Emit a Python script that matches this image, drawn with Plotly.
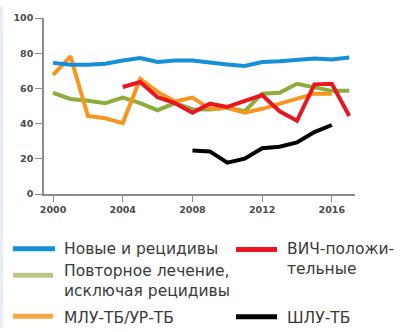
import plotly.graph_objects as go

years = list(range(2000, 2018))

new_relapse = [74.5, 73.5, 73.5, 74.0, 75.8, 77.3, 75.0, 75.8, 75.8, 74.5,
               73.6, 72.7, 75.0, 75.4, 76.0, 77.0, 76.4, 77.5]
retreatment = [57.5, 54.0, 53.0, 51.6, 54.8, 51.6, 47.6, 51.6, 48.2, 48.0,
               49.0, 47.0, 57.0, 57.5, 62.6, 60.8, 58.6, 58.6]
mdr_xdr = [67.7, 78.2, 44.3, 43.0, 40.3, 65.4, 58.0, 52.6, 54.8, 48.4,
           49.0, 46.2, 48.4, 51.3, 54.4, 57.0, 57.0, None]
hiv_pos = [None, None, None, None, 60.8, 63.6, 55.0, 51.6, 46.2, 51.3,
           49.5, 53.0, 56.2, 47.0, 41.6, 62.3, 62.6, 44.3]
xdr = [None] * 8 + [24.7, 24.2, 17.8, 20.1, 26.0, 26.9, 29.3, 35.2, 39.2, None]

y_ticks = [0, 20, 40, 60, 80, 100]
x_ticks = [2000, 2004, 2008, 2012, 2016]

BLUE = "#168fd7"
GREEN = "#8aad3b"
ORANGE = "#f7951f"
RED = "#e8171f"
BLACK = "#000000"

W, H = 402, 332
L, R, T, B = 44, 47, 12, 138
PW, PH = W - L - R, H - T - B


def px(x):
    return (x - L) / PW


def py(y):
    return (H - B - y) / PH


fig = go.Figure()

# series drawn back to front
series = [
    (retreatment, GREEN),
    (mdr_xdr, ORANGE),
    (hiv_pos, RED),
    (new_relapse, BLUE),
    (xdr, BLACK),
]
for vals, col in series:
    fig.add_trace(go.Scatter(
        x=years, y=vals, mode="lines",
        line=dict(color=col, width=4),
        connectgaps=False, showlegend=False, hoverinfo="skip",
    ))

shapes = [
    # thin tinted strip on the left edge
    dict(type="rect", xref="paper", yref="paper",
         x0=px(0), x1=px(3), y0=py(H), y1=py(0),
         fillcolor="#e6edf3", line=dict(width=0), layer="below"),
]

# legend swatches and labels (label centre given in pixels)
legend_items = [
    (13, 55, 250.5, BLUE, "Новые и рецидивы", 251, 62),
    (236, 277, 251.5, RED, "ВИЧ-положи-<br>тельные", 261, 285),
    (13, 53, 278, "#b8c889", "Повторное лечение,<br>исключая рецидивы",
     283.5, 62),
    (13, 53, 320.5, "#f9a846", "МЛУ-ТБ/УР-ТБ", 322, 62),
    (236, 277, 321, BLACK, "ШЛУ-ТБ", 322, 285),
]
annotations = []
for x0, x1, yy, col, text, ty, tx in legend_items:
    shapes.append(dict(type="line", xref="paper", yref="paper",
                       x0=px(x0), x1=px(x1), y0=py(yy), y1=py(yy),
                       line=dict(color=col, width=5)))
    annotations.append(dict(
        text=text, xref="paper", yref="paper",
        x=px(tx), y=py(ty), xanchor="left", yanchor="middle",
        align="left", showarrow=False,
        font=dict(family="DejaVu Sans", size=15.5, color="#3a3a3a"),
    ))

axis_font = dict(family="DejaVu Sans", size=9.5, color="#4a4a4a",
                 weight="bold")

fig.update_layout(
    width=W, height=H,
    margin=dict(l=L, r=R, t=T, b=B, pad=0),
    paper_bgcolor="white", plot_bgcolor="white",
    shapes=shapes, annotations=annotations,
    xaxis=dict(
        range=[1999.48, 2017.33], tickvals=x_ticks,
        ticktext=[str(v) for v in x_ticks],
        showgrid=False, zeroline=False,
        showline=True, linecolor="#8c8c8c", linewidth=1.5,
        ticks="outside", ticklen=6, tickwidth=1.2, tickcolor="#8c8c8c",
        tickfont=axis_font, fixedrange=True,
    ),
    yaxis=dict(
        range=[0, 100], tickvals=y_ticks,
        showgrid=False, zeroline=False,
        showline=True, linecolor="#8c8c8c", linewidth=1.5,
        ticks="outside", ticklen=7, tickwidth=1.2, tickcolor="#8c8c8c",
        tickfont=axis_font, fixedrange=True,
    ),
)

fig.write_html("out.html")
